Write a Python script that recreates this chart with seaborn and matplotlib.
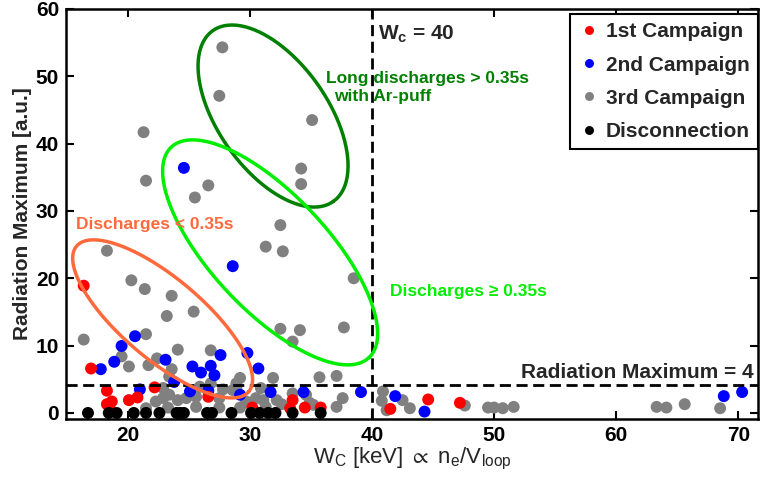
import matplotlib
matplotlib.use("Agg")
import matplotlib.pyplot as plt
import numpy as np
import pandas as pd
import seaborn as sns

# W_C [keV] and radiation maximum [a.u.] per campaign
c1_wc = [16.4, 17.0, 18.3, 18.3, 18.7, 18.5, 20.1, 20.8, 22.2, 26.6, 30.2, 33.5, 33.3,
         34.5, 35.8, 41.5, 44.6, 47.2]
c1_rad = [18.9, 6.6, 3.3, 1.3, 1.7, 0.9, 1.9, 2.3, 3.8, 2.4, 0.8, 1.9, 0.7,
          0.8, 0.8, 0.6, 2.0, 1.5]

c2_wc = [28.6, 24.6, 20.6, 19.5, 18.9, 17.8, 23.1, 25.3, 26.0, 26.8, 27.1, 27.6, 29.8,
         30.7, 23.8, 21.0, 25.1, 26.6, 29.2, 31.7, 34.4, 39.1, 41.9, 44.3, 68.8, 70.3]
c2_rad = [21.8, 36.4, 11.4, 9.95, 7.6, 6.5, 7.9, 6.9, 6.0, 7.0, 5.6, 8.6, 8.9,
          6.6, 4.6, 3.5, 3.2, 3.3, 2.7, 3.1, 3.1, 3.1, 2.5, 0.2, 2.5, 3.1]

c3_wc = [27.75, 27.5, 35.1, 21.3, 21.5, 26.6, 25.5, 34.2, 34.2, 32.5, 31.3, 32.7, 38.5,
         32.5, 34.1, 33.5, 37.7, 18.3, 20.3, 21.4, 23.6, 25.4, 23.2, 16.4, 21.5, 24.1,
         26.8, 19.5, 20.1, 21.7, 22.4, 23.6, 29.2, 31.9, 35.7, 37.1, 23.4,
         22.9, 23.4, 24.1, 22.9, 24.8, 25.6, 25.9, 26.8, 27.8, 27.5, 28.6, 28.9, 29.7,
         30.5, 30.9, 32.2, 32.6, 33.5, 21.5, 23.3, 25.6, 27.5, 29.2, 22.3, 31.3, 35.2,
         34.6, 28.9, 31.1, 37.6, 37.1, 34.9,
         40.9, 40.8, 42.5, 43.1, 41.2, 47.6, 49.5, 50.0, 50.7, 51.6, 63.3, 64.1, 65.6, 68.5]
c3_rad = [54.3, 47.1, 43.5, 41.7, 34.5, 33.8, 32.0, 36.3, 34.0, 27.9, 24.7, 24.0, 20.0,
          12.5, 12.3, 10.6, 12.7, 24.1, 19.7, 18.4, 17.4, 15.05, 14.4, 10.9, 11.7, 9.4,
          9.3, 8.4, 6.9, 7.1, 8.1, 6.5, 5.2, 5.2, 5.3, 5.5, 5.4,
          3.7, 2.7, 1.9, 2.2, 2.2, 2.4, 3.9, 4.4, 3.5, 2.2, 3.4, 4.4, 1.7,
          2.2, 3.7, 1.9, 1.3, 2.9, 0.7, 0.8, 0.9, 0.8, 0.8, 1.7, 0.9, 1.2,
          2.7, 3.7, 1.9, 2.2, 0.9, 1.5,
          3.2, 1.8, 1.9, 0.7, 0.4, 1.1, 0.8, 0.8, 0.7, 0.9, 0.9, 0.8, 1.3, 0.7]

disc_wc = [16.75, 18.45, 19.1, 20.5, 21.5, 22.6, 24.0, 24.3, 24.6, 26.5, 26.9, 28.5,
           30.1, 30.8, 31.5, 32.1, 33.5, 35.8]
disc_rad = [0.0] * len(disc_wc)

groups = ["1st Campaign", "2nd Campaign", "3rd Campaign", "Disconnection"]
colors = ["#ff0000", "#0000ff", "#808080", "#000000"]

wc_crit = 40
rad_crit = 4

# drawing order: gray first, black last
df = pd.concat([
    pd.DataFrame({"wc": c3_wc, "rad": c3_rad, "group": groups[2]}),
    pd.DataFrame({"wc": c2_wc, "rad": c2_rad, "group": groups[1]}),
    pd.DataFrame({"wc": c1_wc, "rad": c1_rad, "group": groups[0]}),
    pd.DataFrame({"wc": disc_wc, "rad": disc_rad, "group": groups[3]}),
], ignore_index=True)

sns.set_theme(style="ticks")
plt.rcParams['font.family'] = ['Liberation Sans', 'DejaVu Sans']
plt.rcParams['mathtext.fontset'] = 'custom'
plt.rcParams['mathtext.rm'] = 'Liberation Sans'
plt.rcParams['mathtext.it'] = 'Liberation Sans:italic'
plt.rcParams['mathtext.bf'] = 'Liberation Sans:bold'
plt.rcParams['mathtext.default'] = 'regular'

fig = plt.figure(figsize=(7.67, 4.83), dpi=100)
ax = fig.add_axes([66 / 767, 1 - 419 / 483, (758 - 66) / 767, (419 - 9) / 483])

sns.scatterplot(data=df, x="wc", y="rad", hue="group", hue_order=groups,
                palette=dict(zip(groups, colors)), s=74, linewidth=0, ax=ax)

ax.set_xlim(14.95, 71.6)
ax.set_ylim(-0.9, 60)
ax.set_xticks(range(20, 71, 10))
ax.set_yticks(range(0, 61, 10))
ax.tick_params(direction="in", top=True, right=True, length=6, width=1.5,
               labelsize=15, pad=5, colors="black")
for lab in ax.get_xticklabels() + ax.get_yticklabels():
    lab.set_fontweight("bold")
for sp in ax.spines.values():
    sp.set_linewidth(1.8)
    sp.set_color("black")

ax.set_xlabel(r"W$_C$ [keV] $\propto$ n$_e$/V$_{loop}$", fontsize=16, labelpad=1)
ax.set_ylabel("Radiation Maximum [a.u.]", fontsize=15, fontweight="bold", labelpad=3)

ax.axvline(wc_crit, color="black", lw=2, ls=(0, (4, 2)), zorder=1)
ax.axhline(rad_crit + 0.2, color="black", lw=2, ls=(0, (4, 2)), zorder=1)


def ellipse(cx, cy, a, b, angle, color):
    # a, b in screen pixels, angle in degrees on screen
    t = np.linspace(0, 2 * np.pi, 300)
    c = ax.transData.transform((cx, cy))
    th = np.deg2rad(angle)
    dx = a * np.cos(t) * np.cos(th) - b * np.sin(t) * np.sin(th)
    dy = a * np.cos(t) * np.sin(th) + b * np.sin(t) * np.cos(th)
    pts = ax.transData.inverted().transform(np.column_stack([c[0] + dx, c[1] + dy]))
    ax.plot(pts[:, 0], pts[:, 1], color=color, lw=2.5, zorder=3)


ellipse(31.9, 44.1, 104.5, 54.7, -54.8, "#008000")
ellipse(31.66, 23.85, 144.4, 58, -46.8, "#00ee00")
ellipse(22.86, 13.97, 112.7, 40.5, -40.2, "#ff6a3d")

ax.text(40.5, 55.4, r"W$_c$ = 40", fontsize=15, fontweight="bold", va="baseline")
ax.text(36.2, 49.0, "Long discharges > 0.35s", fontsize=12.5, fontweight="bold",
        color="#008000", va="baseline")
ax.text(36.9, 46.4, "with Ar-puff", fontsize=12.5, fontweight="bold",
        color="#008000", va="baseline")
ax.text(15.75, 27.3, "Discharges < 0.35s", fontsize=12.5, fontweight="bold",
        color="#ff6a3d", va="baseline")
ax.text(41.5, 17.4, "Discharges \u2265 0.35s", fontsize=12.5, fontweight="bold",
        color="#00ee00", va="baseline")
ax.text(52.2, 5.2, "Radiation Maximum = 4", fontsize=15, fontweight="bold",
        va="baseline")

sns.move_legend(ax, "upper right", bbox_to_anchor=(1.0, 1 - 5 / 410), borderaxespad=0,
                title=None, frameon=True, fancybox=False, framealpha=1,
                edgecolor="black", markerscale=0.75, handlelength=1.03,
                handletextpad=0.3, borderpad=0.4, labelspacing=0.68,
                prop={"size": 15, "weight": "bold"})
ax.get_legend().get_frame().set_linewidth(1.5)

fig.savefig("out.png", dpi=100)
